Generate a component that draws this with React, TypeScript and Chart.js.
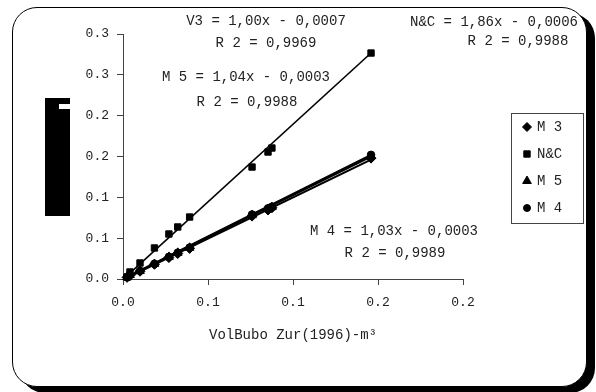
import React, { useEffect, useRef } from "react";
import { Chart, registerables } from "chart.js";
import { drawPoint } from "chart.js/helpers";

Chart.register(...registerables);

// ---- data ----
const xValues = [0.0024, 0.0041, 0.0100, 0.0185, 0.0270, 0.0322, 0.0392, 0.0759, 0.0853, 0.0876, 0.1459];
const ncValues = [0.0024, 0.0086, 0.0196, 0.0380, 0.0551, 0.0637, 0.0759, 0.1371, 0.1555, 0.1604, 0.2767];
const m3Values = [0.0020, 0.0045, 0.0095, 0.0180, 0.0262, 0.0312, 0.0375, 0.0770, 0.0845, 0.0872, 0.1480];
const m4Values = [0.0024, 0.0049, 0.0100, 0.0186, 0.0272, 0.0322, 0.0385, 0.0790, 0.0865, 0.0885, 0.1520];
const m5Values = [0.0022, 0.0048, 0.0098, 0.0184, 0.0270, 0.0320, 0.0382, 0.0782, 0.0858, 0.0880, 0.1505];

const trendX = [0.0015, 0.1459];
const ncTrendY = [0.0022, 0.2767];
const m3TrendY = [0.0006, 0.1462];
const m4TrendY = [0.0013, 0.1500];
const m5TrendY = [0.0016, 0.1520];

const xTickLabels = ["0.0", "0.1", "0.1", "0.2", "0.2"];
const yTickLabels = ["0.0", "0.1", "0.1", "0.2", "0.2", "0.3", "0.3"];

const seriesNames = ["M 3", "N&C", "M 5", "M 4"];
const axisTitle = "VolBubo Zur(1996)-m\u00B3";

const noteTexts = [
  "V3 = 1,00x - 0,0007",
  "R 2 = 0,9969",
  "M 5 = 1,04x - 0,0003",
  "R 2 = 0,9988",
  "N&C = 1,86x - 0,0006",
  "R 2 = 0,9988",
  "M 4 = 1,03x - 0,0003",
  "R 2 = 0,9989",
];

// ---- layout (positions, not data) ----
const notePos = [
  [266, 21], [266, 43], [246, 77], [247, 102],
  [494, 22], [518, 41], [394, 231], [395, 253],
];

const FONT = '"Liberation Mono", "DejaVu Sans Mono", monospace';

const pts = (ys: number[]) => xValues.map((x, i) => ({ x, y: ys[i] }));
const trend = (ys: number[]) => trendX.map((x, i) => ({ x, y: ys[i] }));

const notesPlugin = {
  id: "notes",
  afterDraw(chart: any) {
    const ctx = chart.ctx as CanvasRenderingContext2D;
    ctx.save();
    // black block (y-axis title artefact)
    ctx.fillStyle = "#000";
    ctx.fillRect(45, 98, 25, 118);
    ctx.fillStyle = "#fff";
    ctx.fillRect(59, 104, 11, 5);

    ctx.fillStyle = "#222";
    ctx.font = "14px " + FONT;
    ctx.textAlign = "center";
    ctx.textBaseline = "middle";
    noteTexts.forEach((t, i) => ctx.fillText(t, notePos[i][0], notePos[i][1]));

    // axis title
    ctx.fillText(axisTitle, 293, 335);

    // legend
    ctx.strokeStyle = "#444";
    ctx.lineWidth = 1;
    ctx.strokeRect(511.5, 113.5, 72, 110);
    const styles: any[] = [
      { pointStyle: "rectRot", radius: 4.5 },
      { pointStyle: "rect", radius: 4.5 },
      { pointStyle: "triangle", radius: 5 },
      { pointStyle: "circle", radius: 3.5 },
    ];
    const ys = [127, 154, 181, 208];
    ctx.textAlign = "left";
    seriesNames.forEach((name, i) => {
      ctx.fillStyle = "#000";
      ctx.strokeStyle = "#000";
      drawPoint(ctx, { ...styles[i], rotation: 0, borderWidth: 1 }, 527, ys[i]);
      ctx.fillStyle = "#222";
      ctx.fillText(name, 537, ys[i]);
    });
    ctx.restore();
  },
};

export default function App() {
  const ref = useRef<HTMLCanvasElement>(null);
  useEffect(() => {
    document.body.style.margin = "0";
    const lineDs = (ys: number[], w: number) => ({
      data: trend(ys),
      showLine: true,
      pointRadius: 0,
      borderColor: "#000",
      borderWidth: w,
      clip: false as any,
    });
    const ptDs = (label: string, ys: number[], style: string, r: number) => ({
      label,
      data: pts(ys),
      showLine: false,
      pointStyle: style,
      pointRadius: r,
      backgroundColor: "#000",
      borderColor: "#000",
      borderWidth: 1,
      clip: false as any,
    });
    const chart = new Chart(ref.current!, {
      type: "scatter",
      data: {
        datasets: [
          ptDs(seriesNames[0], m3Values, "rectRot", 5),
          ptDs(seriesNames[1], ncValues, "rect", 4.5),
          ptDs(seriesNames[2], m5Values, "triangle", 5),
          ptDs(seriesNames[3], m4Values, "circle", 3.8),
          lineDs(ncTrendY, 1.6),
          lineDs(m3TrendY, 2),
          lineDs(m4TrendY, 2),
          lineDs(m5TrendY, 2),
        ] as any,
      },
      options: {
        animation: false,
        responsive: false,
        devicePixelRatio: 1,
        layout: { padding: { left: 0, top: 34, right: 133, bottom: 53 } },
        plugins: { legend: { display: false }, tooltip: { enabled: false }, title: { display: false } },
        scales: {
          x: {
            type: "linear",
            min: 0,
            max: 0.2,
            afterFit: (s: any) => { s.height = 60; },
            ticks: {
              stepSize: 0.05,
              autoSkip: false,
              maxRotation: 0,
              padding: 10,
              color: "#222",
              font: { family: FONT, size: 13 },
              callback: (_v: any, i: number) => xTickLabels[i],
            },
            grid: { drawOnChartArea: false, drawTicks: true, tickLength: 6, color: "#444" },
            border: { color: "#444", width: 1 },
          },
          y: {
            type: "linear",
            min: 0,
            max: 0.3,
            afterFit: (s: any) => { s.width = 123; },
            ticks: {
              stepSize: 0.05,
              autoSkip: false,
              padding: 8,
              color: "#222",
              font: { family: FONT, size: 13 },
              callback: (_v: any, i: number) => yTickLabels[i],
            },
            grid: { drawOnChartArea: false, drawTicks: true, tickLength: 6, color: "#444" },
            border: { color: "#444", width: 1 },
          },
        },
      },
      plugins: [notesPlugin],
    });
    return () => chart.destroy();
  }, []);
  return (
    <div style={{ position: "relative", width: 596, height: 392, overflow: "hidden", background: "#fff" }}>
      <div
        style={{
          position: "absolute",
          left: 12,
          top: 7,
          width: 573,
          height: 378,
          border: "1.5px solid #000",
          borderRadius: 25,
          boxShadow: "8px 6px 0 #000",
          background: "#fff",
        }}
      />
      <canvas ref={ref} width={596} height={392} style={{ position: "absolute", left: 0, top: 0, width: 596, height: 392 }} />
    </div>
  );
}
